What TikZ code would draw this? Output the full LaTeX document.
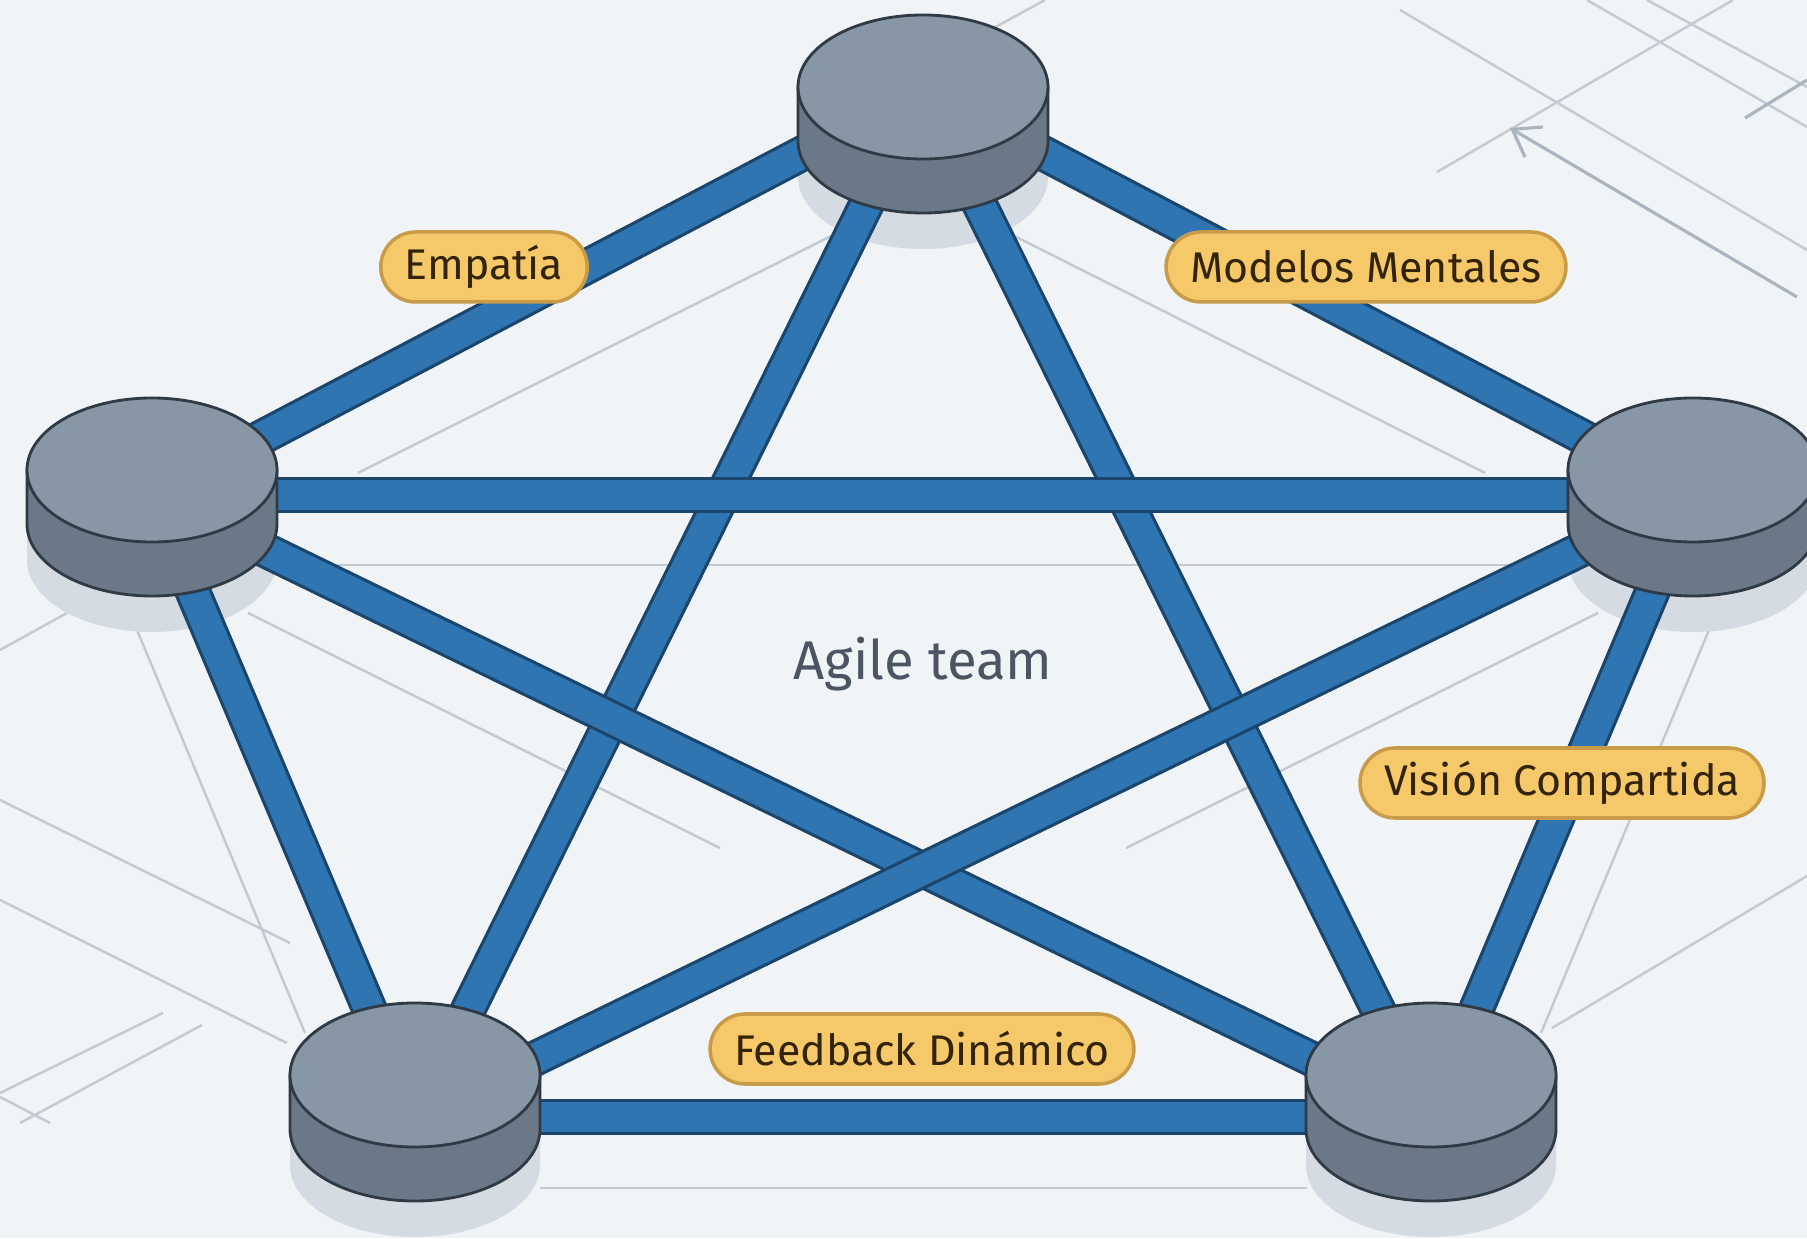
\documentclass[tikz,border=0pt]{standalone}
\usepackage{fontspec}
\setmainfont{Fira Sans}
\usetikzlibrary{calc,arrows.meta}
\definecolor{bgcol}{HTML}{F0F4F7}
\definecolor{barblue}{HTML}{2E75B2}
\definecolor{barline}{HTML}{1B456B}
\definecolor{disktop}{HTML}{8797A6}
\definecolor{diskside}{HTML}{6B7887}
\definecolor{diskline}{HTML}{2F3A45}
\definecolor{diskshadow}{HTML}{D5DBE2}
\definecolor{labfill}{HTML}{F5C86A}
\definecolor{labline}{HTML}{C99B48}
\definecolor{labtext}{HTML}{33230C}
\definecolor{faint}{HTML}{C3CAD2}
\definecolor{faintdark}{HTML}{AAB5C0}
\definecolor{titletext}{HTML}{4B5563}
\begin{document}
\begin{tikzpicture}[
        dtop/.style={fill=disktop,draw=diskline,line width=0.8pt},
        dside/.style={fill=diskside,draw=diskline,line width=0.8pt},
        dshad/.style={fill=diskshadow},
        bsty/.style={draw=barline,line width=0.9pt,double=barblue,double distance=0.3cm},
        lsty/.style={rectangle,rounded corners=0.35cm,fill=labfill,draw=labline,line width=1pt,
            minimum height=0.7cm,inner xsep=0.24cm,text=labtext,font=\fontsize{12.2}{14}\selectfont},
        fsty/.style={draw=faint,line width=0.7pt},
        fdsty/.style={draw=faintdark,line width=0.9pt},
        tsty/.style={text=titletext,font=\fontsize{15.5}{18}\selectfont},
    ]
    \useasboundingbox[fill=bgcol] (0,0) rectangle (18.07,12.38);
    \draw[fsty] (9.23,10.48) -- (3.58,7.65);
    \draw[fsty] (9.23,10.48) -- (14.85,7.65);
    \draw[fsty] (2.77,6.73) -- (15.73,6.73);
    \draw[fsty] (1.37,6.08) -- (3.05,2.05);
    \draw[fsty] (17.09,6.08) -- (15.41,2.05);
    \draw[fsty] (2.48,6.25) -- (7.20,3.90);
    \draw[fsty] (15.98,6.25) -- (11.26,3.90);
    \draw[fsty] (0,4.38) -- (2.90,2.95);
    \draw[fsty] (0,3.38) -- (2.87,1.95);
    \draw[fsty] (15.52,2.10) -- (18.07,3.62);
    \draw[fsty] (5.40,0.50) -- (13.07,0.50);
    \draw[fsty] (0,1.45) -- (1.63,2.25);
    \draw[fsty] (0.20,1.15) -- (2.02,2.13);
    \draw[fsty] (0,1.41) -- (0.50,1.15);
    \draw[fsty] (0,5.88) -- (0.67,6.25);
    \draw[fsty] (9.90,12.08) -- (10.45,12.38);
    \draw[fsty] (14.00,12.28) -- (18.07,9.88);
    \draw[fsty] (14.37,10.66) -- (17.33,12.38);
    \draw[fsty] (15.87,12.38) -- (18.07,11.11);
    \draw[fsty] (16.47,12.38) -- (18.07,11.51);
    \draw[fdsty] (17.45,11.20) -- (18.07,11.58);
    \draw[fdsty,-{Straight Barb[length=2.5mm,width=3.5mm]}] (17.97,9.41) -- (15.10,11.10);
    \foreach \n/\x/\y/\h in {m0/9.23/11.51/0.03, m1/1.52/7.68/0.25, m2/16.93/7.68/0.25,
            m3/4.15/1.63/0.42, m4/14.31/1.63/0.42} {
        \coordinate (\n) at (\x,\y);
        \coordinate (\n h) at (\x,\y-\h);
    }
    \foreach \n in {m0,m1,m2,m3,m4} {
        \fill[dshad] ($(\n)+(-1.25,-0.36)$) arc[start angle=180,end angle=0,x radius=1.25,y radius=0.72]
            -- ++(0,-0.54) arc[start angle=0,end angle=-180,x radius=1.25,y radius=0.72] -- cycle;
    }
    \foreach \a/\b in {m0/m3,m0/m4,m1/m4,m2/m3,m1/m2,m0/m1,m0/m2,m1/m3,m2/m4,m3/m4} {
        \draw[bsty] (\a h) -- (\b h);
    }
    \foreach \n in {m0,m1,m2,m3,m4} {
        \draw[dside] ($(\n)+(-1.25,0)$) -- ++(0,-0.54)
            arc[start angle=180,end angle=360,x radius=1.25,y radius=0.72] -- ++(0,0.54) -- cycle;
        \draw[dtop] (\n) ellipse [x radius=1.25,y radius=0.72];
    }
    \node (e0) at (4.84,9.71) [lsty] {Empatía};
    \node (e1) at (13.66,9.71) [lsty] {Modelos Mentales};
    \node (e2) at (15.62,4.55) [lsty] {Visión Compartida};
    \node (e3) at (9.22,1.89) [lsty] {Feedback Dinámico};
    \node (c0) at (9.23,5.58) [tsty,anchor=base] {Agile team};
\end{tikzpicture}
\end{document}
